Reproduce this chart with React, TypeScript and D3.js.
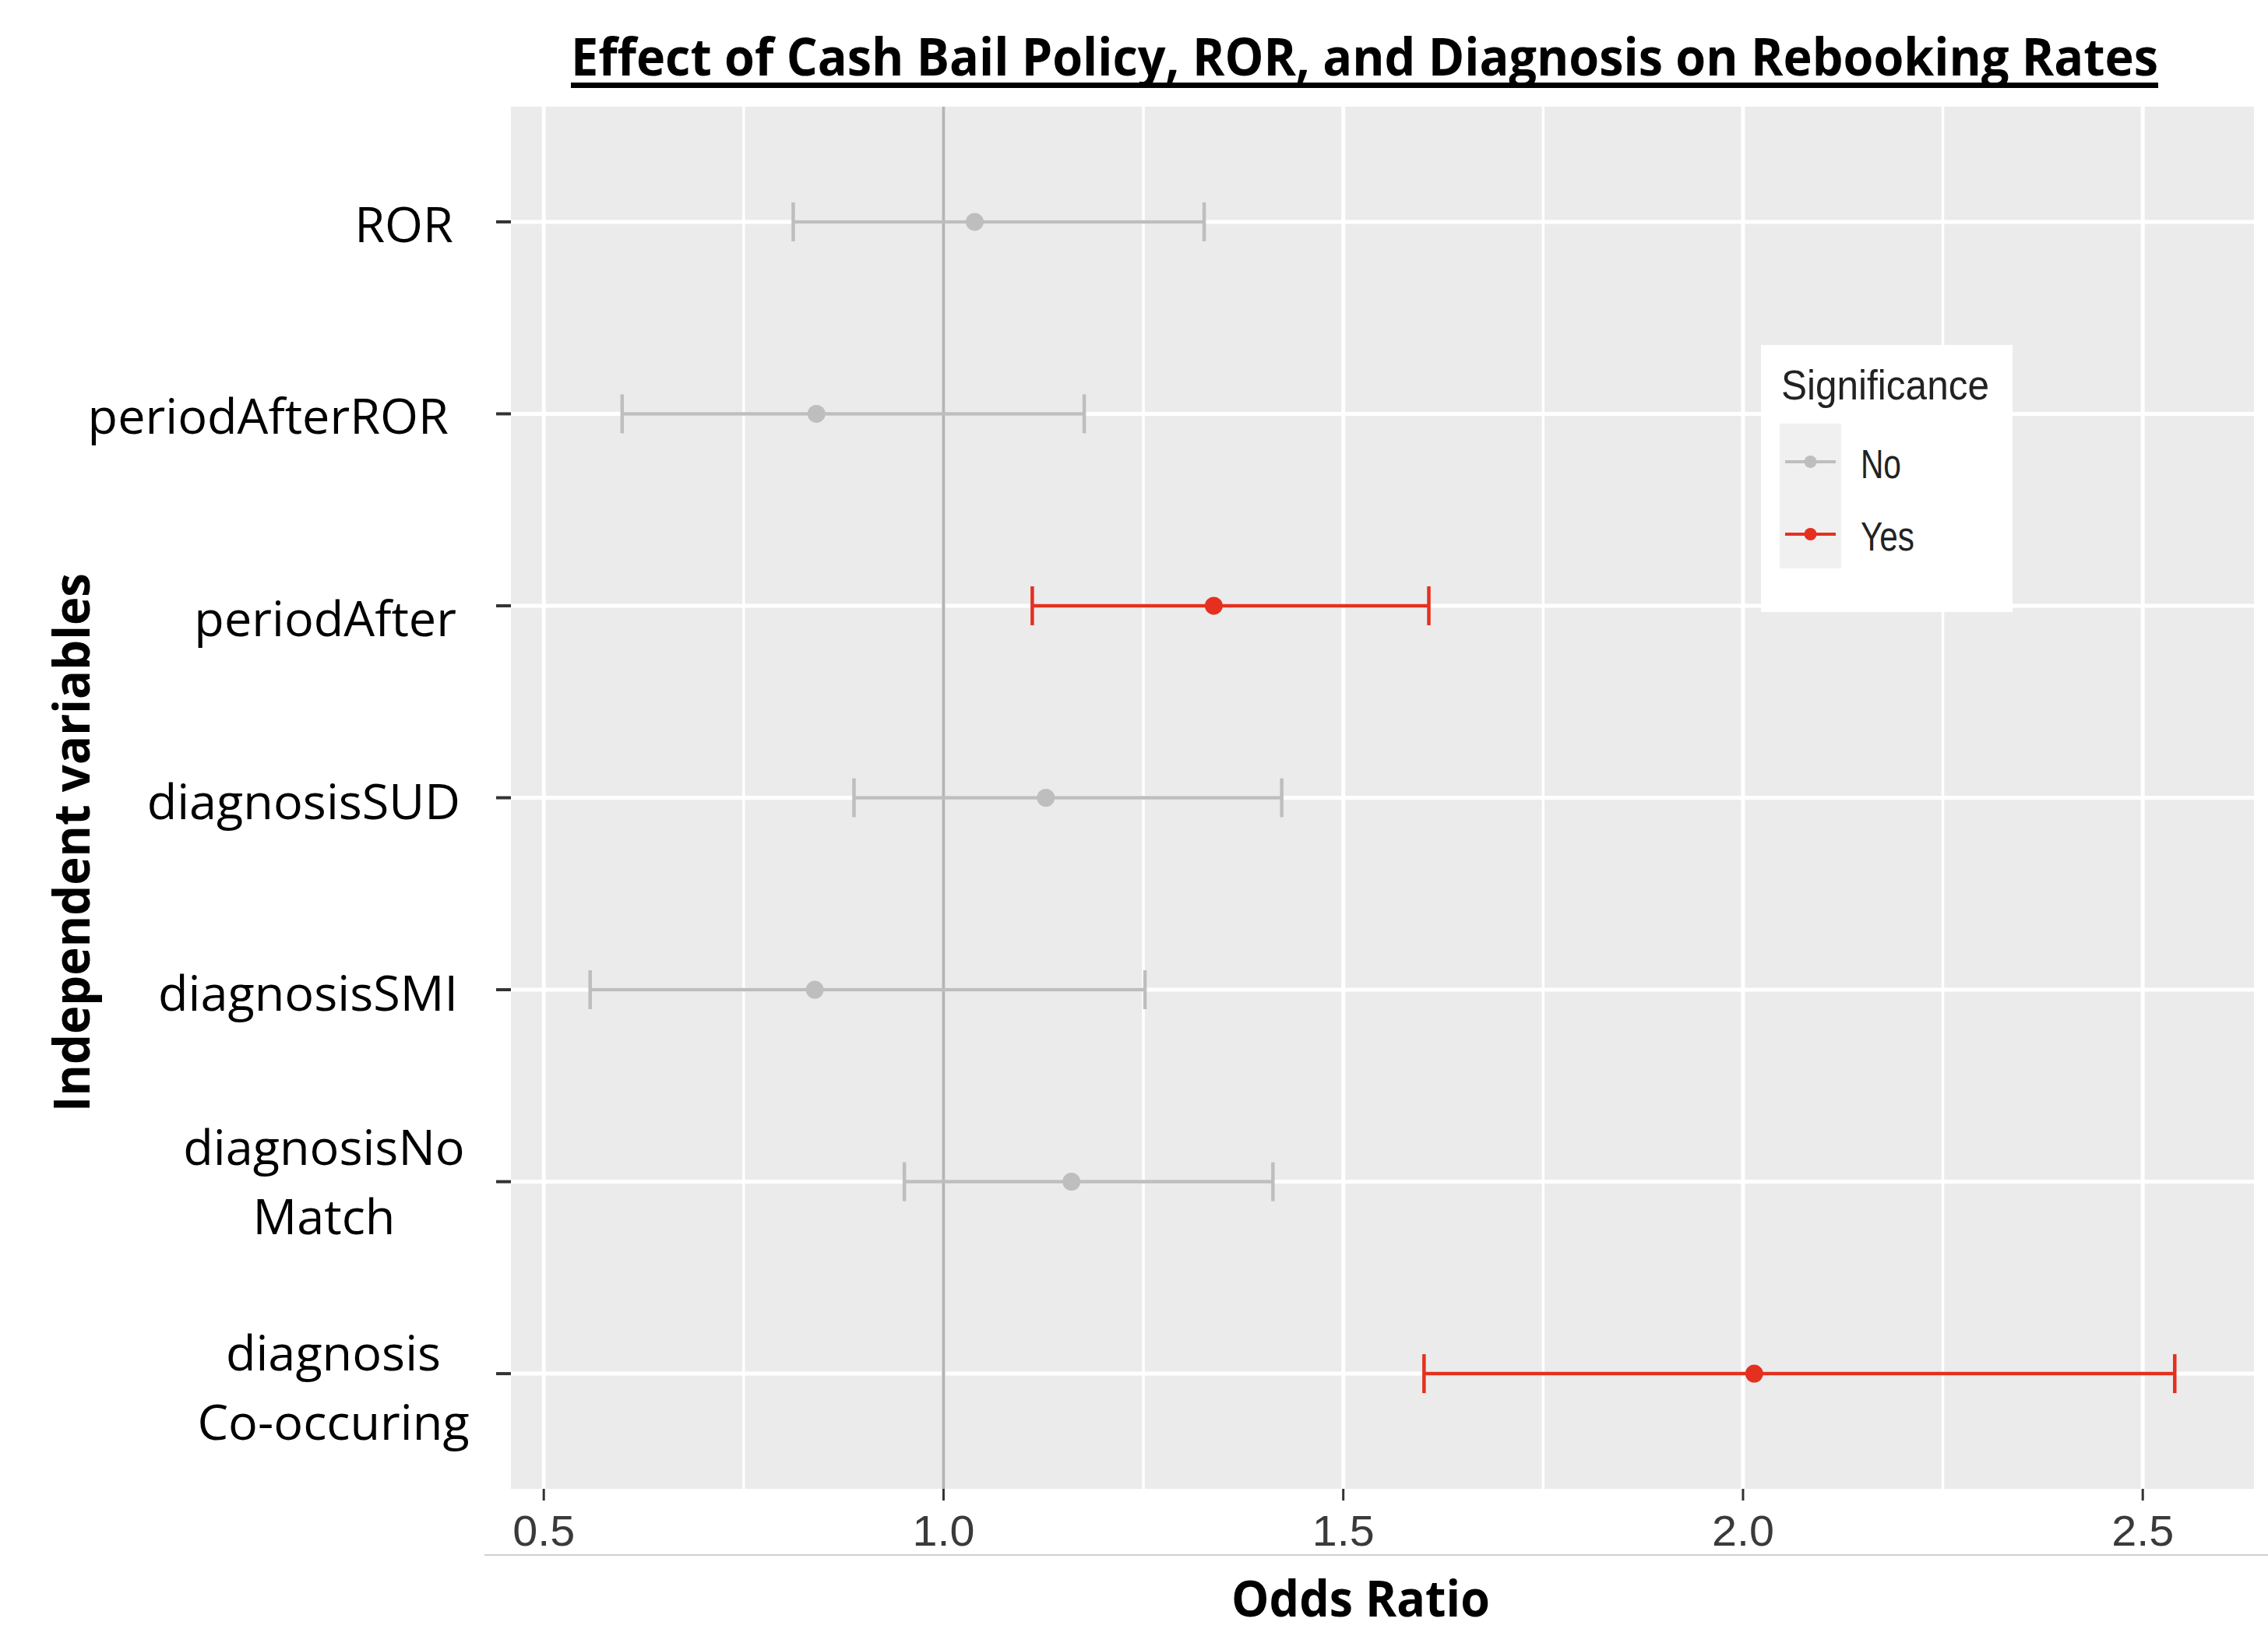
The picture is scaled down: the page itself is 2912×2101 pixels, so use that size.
import React, { useEffect } from "react";
import * as d3 from "d3";

// ---------- data ----------
const categories = [
  "ROR",
  "periodAfterROR",
  "periodAfter",
  "diagnosisSUD",
  "diagnosisSMI",
  "diagnosisNoMatch",
  "diagnosisCo-occuring",
];
const categoryLabelLines = [
  ["ROR"],
  ["periodAfterROR"],
  ["periodAfter"],
  ["diagnosisSUD"],
  ["diagnosisSMI"],
  ["diagnosisNo", "Match"],
  ["diagnosis", "Co-occuring"],
];
const oddsRatio = [1.039, 0.841, 1.338, 1.128, 0.839, 1.16, 2.014];
const lowerCI = [0.812, 0.598, 1.111, 0.888, 0.558, 0.951, 1.601];
const upperCI = [1.326, 1.176, 1.607, 1.423, 1.252, 1.412, 2.54];
const significance = ["No", "No", "Yes", "No", "No", "No", "Yes"];
const xTicks = [0.5, 1.0, 1.5, 2.0, 2.5];
const xMinorTicks = [0.75, 1.25, 1.75, 2.25];
const legendLevels = ["No", "Yes"];
const referenceValue = 1.0;

const titleText = " Effect of Cash Bail Policy, ROR, and Diagnosis on Rebooking Rates";
const xTitle = "Odds Ratio";
const yTitle = "Independent variables";
const legendTitle = "Significance";

// ---------- layout ----------
const W = 2912;
const H = 2101;
const panel = { left: 656, right: 2894, top: 137, bottom: 1912 };
const colors: Record<string, string> = { No: "#bebebe", Yes: "#e5301f" };
// per-label placement: [anchor, x, baseline offset of first line from tick]
const labelPlacement: [string, number, number][] = [
  ["end", 582, 26],
  ["end", 576, 26],
  ["end", 586, 39],
  ["end", 591, 27],
  ["end", 588, 27],
  ["middle", 416, -22],
  ["middle", 428, -4],
];
const labelLineGap = 89;

export default function App() {
  useEffect(() => {
    document.body.style.margin = "0";
  }, []);

  const data = categories.map((c, i) => ({
    cat: c,
    or: oddsRatio[i],
    lo: lowerCI[i],
    hi: upperCI[i],
    sig: significance[i],
  }));

  const dMin = d3.min(data, (d) => d.lo) as number;
  const dMax = d3.max(data, (d) => d.hi) as number;
  const pad = (dMax - dMin) * 0.05;
  const x = d3
    .scaleLinear()
    .domain([dMin - pad, dMax + pad])
    .range([panel.left, panel.right]);
  const y = d3
    .scalePoint<string>()
    .domain(categories)
    .range([panel.top, panel.bottom])
    .padding(0.6);

  const capHalf = 25;
  const sansLabel = "'Open Sans', 'Noto Sans', sans-serif";
  const arial = "'Liberation Sans', Arial, sans-serif";

  return (
    <svg width={W} height={H} style={{ display: "block" }}>
      <rect x={0} y={0} width={W} height={H} fill="#ffffff" />

      {/* title */}
      <text
        x={733}
        y={97}
        fontFamily={sansLabel}
        fontWeight={700}
        fontSize={66}
        textLength={2038}
        lengthAdjust="spacingAndGlyphs"
        fill="#000"
      >
        {titleText}
      </text>
      <rect x={733} y={106} width={2038} height={7} fill="#000" />

      {/* panel */}
      <rect
        x={panel.left}
        y={panel.top}
        width={panel.right - panel.left}
        height={panel.bottom - panel.top}
        fill="#ebebeb"
      />
      {xMinorTicks.map((t) => (
        <line
          key={"mn" + t}
          x1={x(t)}
          x2={x(t)}
          y1={panel.top}
          y2={panel.bottom}
          stroke="#ffffff"
          strokeWidth={3.5}
        />
      ))}
      {xTicks.map((t) => (
        <line
          key={"mj" + t}
          x1={x(t)}
          x2={x(t)}
          y1={panel.top}
          y2={panel.bottom}
          stroke="#ffffff"
          strokeWidth={5}
        />
      ))}
      {categories.map((c) => (
        <line
          key={"hg" + c}
          x1={panel.left}
          x2={panel.right}
          y1={y(c)}
          y2={y(c)}
          stroke="#ffffff"
          strokeWidth={5}
        />
      ))}

      {/* reference line */}
      <line
        x1={x(referenceValue)}
        x2={x(referenceValue)}
        y1={panel.top}
        y2={panel.bottom}
        stroke="#b4b4b4"
        strokeWidth={4}
      />

      {/* error bars and points */}
      {data.map((d) => {
        const yy = y(d.cat) as number;
        const col = colors[d.sig];
        const sw = 4.5;
        return (
          <g key={"eb" + d.cat}>
            <line x1={x(d.lo)} x2={x(d.hi)} y1={yy} y2={yy} stroke={col} strokeWidth={sw} />
            <line x1={x(d.lo)} x2={x(d.lo)} y1={yy - capHalf} y2={yy + capHalf} stroke={col} strokeWidth={sw} />
            <line x1={x(d.hi)} x2={x(d.hi)} y1={yy - capHalf} y2={yy + capHalf} stroke={col} strokeWidth={sw} />
            <circle cx={x(d.or)} cy={yy} r={11.5} fill={col} />
          </g>
        );
      })}

      {/* y axis ticks and labels */}
      {categories.map((c, i) => {
        const yy = y(c) as number;
        const [anchor, lx, off] = labelPlacement[i];
        return (
          <g key={"yl" + c}>
            <line x1={637} x2={panel.left} y1={yy} y2={yy} stroke="#333333" strokeWidth={4} />
            {categoryLabelLines[i].map((ln, j) => (
              <text
                key={ln}
                x={lx}
                y={yy + off + j * labelLineGap}
                textAnchor={anchor as any}
                fontFamily={sansLabel}
                fontSize={63}
                fill="#000"
              >
                {ln}
              </text>
            ))}
          </g>
        );
      })}

      {/* x axis ticks and labels */}
      {xTicks.map((t) => (
        <g key={"xt" + t}>
          <line x1={x(t)} x2={x(t)} y1={panel.bottom} y2={panel.bottom + 15} stroke="#333333" strokeWidth={3} />
          <text
            x={x(t)}
            y={1985}
            textAnchor="middle"
            fontFamily={arial}
            fontSize={56}
            textLength={80}
            lengthAdjust="spacingAndGlyphs"
            fill="#3a3a3a"
          >
            {t.toFixed(1)}
          </text>
        </g>
      ))}
      <line x1={622} x2={W} y1={1997} y2={1997} stroke="#cfcfcf" strokeWidth={2} />

      {/* axis titles */}
      <text
        x={1581}
        y={2076}
        fontFamily={sansLabel}
        fontWeight={700}
        fontSize={64}
        textLength={332}
        lengthAdjust="spacingAndGlyphs"
        fill="#000"
      >
        {xTitle}
      </text>
      <text
        transform="translate(115,1428) rotate(-90)"
        x={0}
        y={0}
        fontFamily={sansLabel}
        fontWeight={700}
        fontSize={64}
        textLength={692}
        lengthAdjust="spacingAndGlyphs"
        fill="#000"
      >
        {yTitle}
      </text>

      {/* legend */}
      <rect x={2261} y={443} width={323} height={343} fill="#ffffff" />
      <text
        x={2287}
        y={513}
        fontFamily={arial}
        fontSize={54}
        textLength={267}
        lengthAdjust="spacingAndGlyphs"
        fill="#222222"
      >
        {legendTitle}
      </text>
      <rect x={2285} y={544} width={79} height={186} fill="#f0f0f0" />
      {legendLevels.map((lv, i) => {
        const ly = 593 + i * 93;
        return (
          <g key={"lg" + lv}>
            <line x1={2292} x2={2357} y1={ly} y2={ly} stroke={colors[lv]} strokeWidth={4} />
            <circle cx={2324.5} cy={ly} r={8} fill={colors[lv]} />
            <text
              x={2389}
              y={ly + 21}
              fontFamily={arial}
              fontSize={51}
              textLength={lv === "No" ? 52 : 69}
              lengthAdjust="spacingAndGlyphs"
              fill="#222222"
            >
              {lv}
            </text>
          </g>
        );
      })}
    </svg>
  );
}
